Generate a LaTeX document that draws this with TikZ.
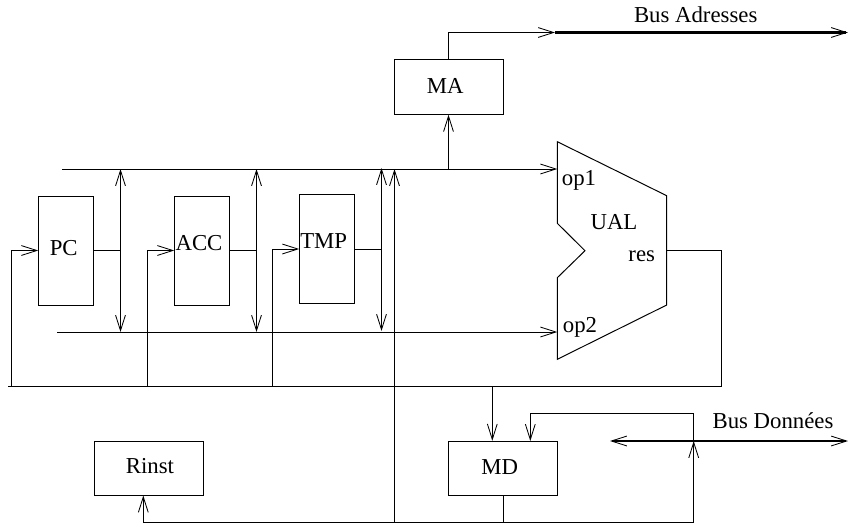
\documentclass[tikz,border=0pt]{standalone}
\usepackage{fontspec}
\setmainfont{Liberation Serif}
\usetikzlibrary{arrows.meta}
\tikzset{
  pointe/.tip={Straight Barb[length=11pt,width=7pt,line width=0.6pt]},
  fil/.style={line width=0.7pt},
  bus/.style={line width=1.5pt},
  fl/.style={-pointe},
  flbus/.style={pointe-pointe},
  boite/.style={draw,fil,inner sep=0pt,minimum width=77.5pt,minimum height=38.7pt},
  reg/.style={draw,fil,inner sep=0pt,minimum width=38.8pt,minimum height=77.5pt},
  txt/.style={inner sep=0pt,font=\fontsize{16.2}{18}\selectfont}
}
\begin{document}
\begin{tikzpicture}[x=0.025cm,y=-0.025cm,fil]
\useasboundingbox (0,0) rectangle (848,527);
% registres
\node[reg] (pc) at (66,250.5) {};
\node[reg] (acc) at (202,250.5) {};
\node[reg] (tmp) at (327,249) {};
\node[boite] (ma) at (448.5,87) {};
\node[boite] (md) at (503,468.5) {};
\node[boite] (rinst) at (148.8,468.3) {};
\node[txt] (lpc) at (63.7,248.5) {PC};
\node[txt] (lacc) at (199,243) {ACC};
\node[txt] (ltmp) at (323.7,241) {TMP};
\node[txt] (lma) at (445.3,86) {MA};
\node[txt] (lmd) at (499.7,467) {MD};
\node[txt] (lrinst) at (150,466) {Rinst};
\node[txt] (lbusa) at (695.7,15) {Bus Adresses};
\node[txt] (lbusd) at (773,421) {Bus Donn\'ees};
% UAL
\coordinate (a1) at (557.3,141.7);
\coordinate (a2) at (666.7,195.7);
\coordinate (a3) at (666.7,305);
\coordinate (a4) at (557.3,359.3);
\coordinate (a5) at (557.3,277.7);
\coordinate (a6) at (585,250.7);
\coordinate (a7) at (557.3,223.3);
\coordinate (sortie) at (666.7,250);
\draw (a1) -- (a2) -- (a3) -- (a4) -- (a5) -- (a6) -- (a7) -- cycle;
\node[txt] (lop1) at (579,180.5) {op1};
\node[txt] (lual) at (614,222) {UAL};
\node[txt] (lres) at (641.7,256) {res};
\node[txt] (lop2) at (580,327) {op2};
% bus internes
\coordinate (h0) at (62,169);
\coordinate (op1) at (557.3,169);
\coordinate (b0) at (57,332);
\coordinate (op2) at (557.3,332);
\coordinate (r0) at (8,386.5);
\coordinate (r1) at (721.5,386.5);
\coordinate (v1) at (120.5,169);
\coordinate (v2) at (256.5,169);
\coordinate (v3) at (381.5,168);
\coordinate (v4) at (394.5,169);
\coordinate (e1) at (11.5,386.5);
\coordinate (e2) at (147.5,386.5);
\coordinate (e3) at (272.5,386.5);
\draw[fl] (h0) -- (op1);
\draw[fl] (b0) -- (op2);
\draw (r0) -- (r1) |- (sortie);
% sorties des registres
\draw (pc.east) -- (pc.east -| v1);
\draw (acc.east) -- (acc.east -| v2);
\draw (tmp.east) -- (tmp.east -| v3);
\draw[flbus] (v1) -- (v1 |- b0);
\draw[flbus] (v2) -- (v2 |- b0);
\draw[flbus] (v3) -- (381.5,331);
% entrees des registres
\draw[fl] (e1) |- (pc.west);
\draw[fl] (e2) |- (acc.west);
\draw[fl] (e3) |- (tmp.west);
% MA
\coordinate (adr) at (555,32.5);
\coordinate (adr1) at (848,32.5);
\draw[fl] (ma.south |- h0) -- (ma.south);
\draw[fl] (ma.north) |- (adr);
\draw[bus,fl] (adr) -- (adr1);
% MD
\coordinate (m1) at (492.3,386.5);
\coordinate (m2) at (530.3,441);
\coordinate (don0) at (610,441);
\coordinate (don1) at (848,441);
\coordinate (d1) at (693.7,441);
\coordinate (d2) at (693.7,413.7);
\coordinate (d3) at (693.7,522.7);
\coordinate (ri) at (143.3,495.5);
\draw[fl] (m1) -- (m1 |- md.north);
\draw[fl] (d1) -- (d2) -| (m2);
\draw[fl] (d3) -- (d1);
\draw[bus,flbus] (don0) -- (don1);
\draw (md.south) -- (md.south |- d3);
% retour vers Rinst
\draw[fl] (d3) -| (ri);
\draw[fl] (v4 |- d3) -- (v4);
\end{tikzpicture}
\end{document}
